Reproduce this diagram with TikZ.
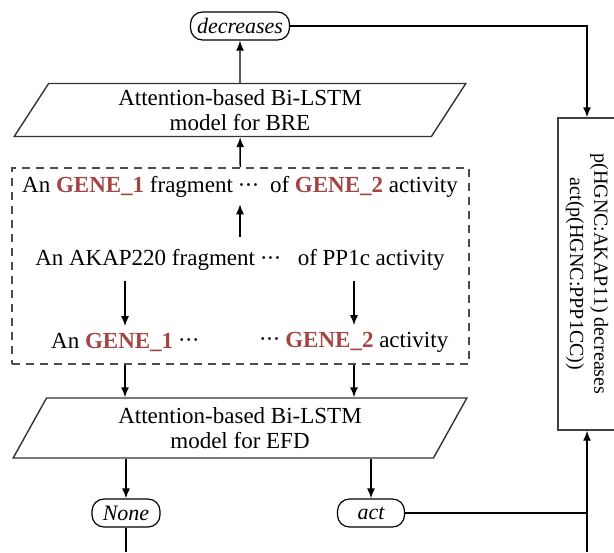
\documentclass[tikz,border=0pt]{standalone}
\usepackage{fontspec}
\setmainfont{Liberation Serif}
\usepackage{graphicx}
\usetikzlibrary{shapes.geometric,arrows.meta}
\definecolor{genered}{RGB}{165,68,68}
\newcommand{\gene}[1]{\textbf{\textcolor{genered}{#1}}}
\newcommand{\dts}{\raisebox{0.3ex}{\small$\boldsymbol{\cdot}\!\boldsymbol{\cdot}\!\boldsymbol{\cdot}$}}
\tikzset{
  model/.style={draw=black!80,line width=0.7pt,trapezium,trapezium stretches=true,
    trapezium left angle=62,trapezium right angle=118,minimum width=226pt,
    minimum height=26.5pt,inner sep=0pt,align=center,
    font=\fontsize{11.5}{12.5}\selectfont},
  label/.style={draw,line width=0.6pt,rounded corners=6pt,minimum height=14pt,
    inner sep=1pt,font=\fontsize{11}{12}\selectfont\itshape},
  sent/.style={inner sep=3pt,font=\fontsize{11.5}{12.5}\selectfont}
}
\usepackage{amsmath}
\begin{document}
\begin{tikzpicture}[x=0.5pt,y=-0.5pt,>={Latex[length=5pt,width=4pt]},line width=0.7pt]
  \useasboundingbox (0,0) rectangle (614,552);
  % labels and models
  \node[label,minimum width=49.5pt] (dec) at (240,26) {decreases};
  \node[model] (bre) at (240,110) {Attention-based Bi-LSTM\\model for BRE};
  \node[draw=black!70,dash pattern=on 4pt off 3pt,line width=0.8pt,minimum width=228.5pt,minimum height=98pt] (frag) at (240.5,266) {};
  \node[model,minimum width=227pt,minimum height=30pt,trapezium left angle=63,trapezium right angle=117] (efd) at (240,428) {Attention-based Bi-LSTM\\model for EFD};
  \node[label,minimum width=34pt] (none) at (126,513) {None};
  \node[label,minimum width=33.5pt] (act) at (371,513) {act};
  \node[draw=black!75,minimum width=29pt,minimum height=156pt,inner sep=0pt] (kb) at (587,274)
    {\rotatebox{-90}{\fontsize{10}{10.5}\selectfont\shortstack{p(HGNC:AKAP11) decreases\\act(p(HGNC:PPP1CC))}}};

  % sentences in the dashed box
  \node[sent] (t1) at (240,187) {An \gene{GENE\_1} fragment \dts\ \ of \gene{GENE\_2} activity};
  \node[sent] (t2) at (240,260) {An AKAP220 fragment \dts\ \ \ of PP1c activity};
  \node[sent] (t3a) at (125,342) {An \gene{GENE\_1} \dts};
  \node[sent] (t3b) at (354,342) {\dts\ \gene{GENE\_2} activity};

  \coordinate (nb) at (126,552);
  \coordinate (kbot) at (587,552);

  % arrows
  \draw[->] (bre) -- (dec);
  \draw[->] (frag) -- (bre);
  \draw[->,shorten <=3pt] (t2) -- (t1);
  \draw[->,shorten <=2pt] (t2.south -| t3a) -- (t3a);
  \draw[->,shorten <=2pt] (t2.south -| t3b) -- (t3b);
  \draw[->] (frag.south -| t3a) -- (efd.north -| t3a);
  \draw[->] (frag.south -| t3b) -- (efd.north -| t3b);
  \draw[->] (efd.south -| none) -- (none);
  \draw[->] (efd.south -| act) -- (act);
  \draw (none) -- (nb);
  \draw (act) -- (act -| kbot);
  \draw[->] (kbot) -- (kb);
  \draw[->] (dec) -| (kb);
\end{tikzpicture}
\end{document}
